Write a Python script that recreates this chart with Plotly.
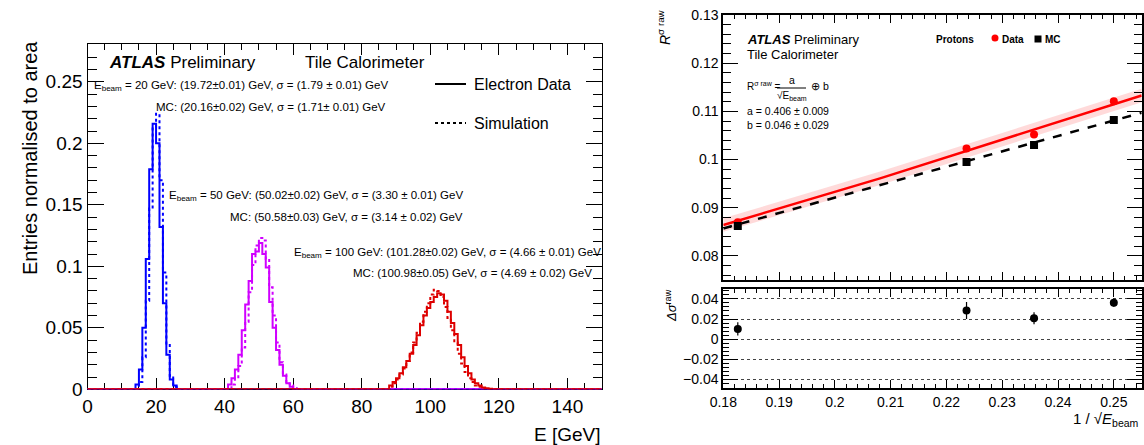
import plotly.graph_objects as go

# ---------------- data: left panel (1 GeV bins, normalised to area) ----------------
bin_lo, bin_hi = 0, 150

e20_data_start = 14
e20_data = [0.004, 0.016, 0.050, 0.106, 0.179, 0.216, 0.200, 0.132, 0.070, 0.028, 0.008, 0.003]
e20_mc_start = 15
e20_mc = [0.006, 0.026, 0.072, 0.147, 0.213, 0.224, 0.170, 0.095, 0.036, 0.011, 0.002]

e50_data_start = 41
e50_data = [0.004, 0.009, 0.016, 0.028, 0.048, 0.069, 0.088, 0.110, 0.112, 0.119,
            0.110, 0.099, 0.071, 0.050, 0.032, 0.020, 0.011, 0.005, 0.002]
e50_mc_start = 42
e50_mc = [0.004, 0.009, 0.019, 0.034, 0.055, 0.079, 0.101, 0.117, 0.123, 0.121,
          0.106, 0.083, 0.060, 0.038, 0.022, 0.012, 0.006, 0.003, 0.001]

e100_data_start = 88
e100_data = [0.003, 0.006, 0.009, 0.013, 0.018, 0.023, 0.029, 0.036, 0.044, 0.052,
             0.060, 0.066, 0.071, 0.075, 0.078, 0.077, 0.072, 0.063, 0.054, 0.045,
             0.036, 0.026, 0.019, 0.013, 0.008, 0.005, 0.003, 0.0015, 0.0008, 0.0004]
e100_mc_start = 88
e100_mc = [0.002, 0.005, 0.008, 0.012, 0.017, 0.023, 0.030, 0.038, 0.046, 0.055,
           0.063, 0.070, 0.077, 0.081, 0.080, 0.075, 0.067, 0.058, 0.048, 0.038,
           0.029, 0.021, 0.014, 0.009, 0.006, 0.003, 0.002, 0.001]

# ---------------- data: right panel ----------------
inv_sqrt_e = [0.1826, 0.2236, 0.2357, 0.2500]
r_data = [0.0870, 0.1023, 0.1052, 0.1121]
r_mc = [0.0862, 0.0995, 0.1030, 0.1082]
delta = [0.0101, 0.0284, 0.0208, 0.0363]
delta_err = [0.0066, 0.0085, 0.0060, 0.0040]
fit_x = [0.180, 0.2081, 0.255]
fit_data = [0.0864, 0.0961, 0.1133]
fit_mc = [0.0857, 0.0947, 0.1097]
fit_band = 0.0014

# ---------------- styling ----------------
FONT = "Liberation Sans, Arial, Helvetica, sans-serif"
W, H = 1144, 445
BLUE, MAG, RED = "#0000ff", "#d000ff", "#dd0000"


def px(x):
    return x / W


def py(y):
    return 1 - y / H


def full_hist(start, vals):
    edges = list(range(bin_lo, bin_hi + 1))
    y = [0.0] * (bin_hi - bin_lo)
    for i, v in enumerate(vals):
        y[start - bin_lo + i] = v
    return edges, y + [y[-1]]


fig = go.Figure()

hists = [
    (e20_mc_start, e20_mc, BLUE, "dot"),
    (e20_data_start, e20_data, BLUE, "solid"),
    (e50_mc_start, e50_mc, MAG, "dot"),
    (e50_data_start, e50_data, MAG, "solid"),
    (e100_mc_start, e100_mc, RED, "dot"),
    (e100_data_start, e100_data, RED, "solid"),
]
for start, vals, col, dash in hists:
    xe, ye = full_hist(start, vals)
    fig.add_trace(go.Scatter(x=xe, y=ye, mode="lines", line_shape="hv",
                             line=dict(color=col, width=2, dash=dash),
                             xaxis="x", yaxis="y", showlegend=False, hoverinfo="skip"))

# right: fit band, fits, points
band_x = fit_x + fit_x[::-1]
band_y = [v + fit_band for v in fit_data] + [v - fit_band for v in fit_data[::-1]]
fig.add_trace(go.Scatter(x=band_x, y=band_y, fill="toself", mode="lines",
                         line=dict(width=0), fillcolor="rgba(255,140,140,0.32)",
                         xaxis="x2", yaxis="y2", showlegend=False, hoverinfo="skip"))
fig.add_trace(go.Scatter(x=fit_x, y=fit_mc, mode="lines",
                         line=dict(color="black", width=2.5, dash="dash"),
                         xaxis="x2", yaxis="y2", showlegend=False))
fig.add_trace(go.Scatter(x=fit_x, y=fit_data, mode="lines",
                         line=dict(color="#ff0000", width=2.5),
                         xaxis="x2", yaxis="y2", showlegend=False))
fig.add_trace(go.Scatter(x=inv_sqrt_e, y=r_data, mode="markers",
                         marker=dict(color="#ff0000", size=8, symbol="circle"),
                         xaxis="x2", yaxis="y2", showlegend=False))
fig.add_trace(go.Scatter(x=inv_sqrt_e, y=r_mc, mode="markers",
                         marker=dict(color="black", size=8, symbol="square"),
                         xaxis="x2", yaxis="y2", showlegend=False))
fig.add_trace(go.Scatter(x=inv_sqrt_e, y=delta, mode="markers",
                         marker=dict(color="black", size=8),
                         error_y=dict(type="data", array=delta_err, color="black",
                                      thickness=1.2, width=0),
                         xaxis="x3", yaxis="y3", showlegend=False))

tickfont_l = dict(family=FONT, size=19, color="black")
tickfont_r = dict(family=FONT, size=14, color="black")

common = dict(showline=True, linecolor="black", mirror="ticks", ticks="inside",
              tickcolor="black", showgrid=False, zeroline=False, automargin=False)

fig.update_layout(
    template="none",
    width=W, height=H, autosize=False,
    margin=dict(l=0, r=0, t=0, b=0, pad=0),
    paper_bgcolor="white", plot_bgcolor="white",
    font=dict(family=FONT, color="black"),
    xaxis=dict(domain=[px(87.5), px(601.7)], range=[0, 150], anchor="y",
               dtick=20, tick0=0, ticklen=11, linewidth=1.2, tickfont=tickfont_l,
               minor=dict(dtick=5, ticklen=6, ticks="inside", tickcolor="black"),
               layer="below traces", **common),
    yaxis=dict(domain=[py(389.3), py(44.3)], range=[0, 0.2805], anchor="x",
               dtick=0.05, tick0=0, ticklen=16, linewidth=1.2, tickfont=tickfont_l,
               minor=dict(dtick=0.01, ticklen=9, ticks="inside", tickcolor="black"),
               layer="below traces", **common),
    xaxis2=dict(domain=[px(723.3), px(1141.7)], range=[0.18, 0.255], anchor="y2",
                matches="x3", showticklabels=False, dtick=0.01, tick0=0.18, ticklen=8,
                linewidth=2,
                minor=dict(dtick=0.002, ticklen=4, ticks="inside", tickcolor="black"),
                **common),
    yaxis2=dict(domain=[py(280), py(15)], range=[0.075, 0.13], anchor="x2",
                dtick=0.01, tick0=0.08, ticklen=15, linewidth=2, tickfont=tickfont_r,
                minor=dict(dtick=0.002, ticklen=8, ticks="inside", tickcolor="black"),
                **common),
    xaxis3=dict(domain=[px(723.3), px(1141.7)], range=[0.18, 0.255], anchor="y3",
                dtick=0.01, tick0=0.18, ticklen=8, linewidth=2, tickfont=tickfont_r,
                minor=dict(dtick=0.002, ticklen=4, ticks="inside", tickcolor="black"),
                **common),
    yaxis3=dict(domain=[py(388.3), py(289)], range=[-0.049, 0.0499], anchor="x3",
                dtick=0.02, tick0=0, ticklen=15, linewidth=2, tickfont=tickfont_r,
                minor=dict(dtick=0.004, ticklen=6, ticks="inside", tickcolor="black"),
                showline=True, linecolor="black", mirror="ticks", ticks="inside",
                tickcolor="black", zeroline=False, automargin=False,
                showgrid=True, gridcolor="#444", griddash="dot", gridwidth=1),
)

ann = []


def add_text(x, y, text, size, xanchor="left", yanchor="middle", angle=0):
    ann.append(dict(x=px(x), y=py(y), xref="paper", yref="paper", text=text,
                    showarrow=False, xanchor=xanchor, yanchor=yanchor, textangle=angle,
                    font=dict(family=FONT, size=size, color="black")))


# left panel texts
add_text(107, 63, "<b><i>ATLAS</i></b> Preliminary", 17)
add_text(303, 63, "Tile Calorimeter", 17)
add_text(472, 84, "Electron Data", 16)
add_text(472, 123, "Simulation", 16)
add_text(92, 86, "E<sub>beam</sub> = 20 GeV: (19.72±0.01) GeV, σ = (1.79 ± 0.01) GeV", 11.5)
add_text(154, 107, "MC: (20.16±0.02) GeV, σ = (1.71± 0.01) GeV", 11.5)
add_text(167, 196, "E<sub>beam</sub> = 50 GeV: (50.02±0.02) GeV, σ = (3.30 ± 0.01) GeV", 11.5)
add_text(228, 217, "MC: (50.58±0.03) GeV, σ = (3.14 ± 0.02) GeV", 11.5)
add_text(292, 253, "E<sub>beam</sub> = 100 GeV: (101.28±0.02) GeV, σ = (4.66 ± 0.01) GeV", 11.5)
add_text(351, 273, "MC: (100.98±0.05) GeV, σ = (4.69 ± 0.02) GeV", 11.5)
add_text(30, 158, "Entries normalised to area", 20, xanchor="center", angle=-90)
add_text(603, 434, "E [GeV]", 19, xanchor="right")

# right panel texts
add_text(745, 39, "<b><i>ATLAS</i></b> Preliminary", 13)
add_text(745, 55, "Tile Calorimeter", 13)
add_text(745, 86, "R<sup>σ raw</sup> =", 10)
add_text(791.5, 80.5, "a", 10.5, xanchor="center")
add_text(791.5, 95.5, "√E<sub>beam</sub>", 10, xanchor="center")
add_text(809, 86, "⊕ b", 10.5)
add_text(745, 111, "a = 0.406 ± 0.009", 10.5)
add_text(745, 125, "b = 0.046 ± 0.029", 10.5)
add_text(934, 39, "<b>Protons</b>", 10)
add_text(1000, 39, "<b>Data</b>", 10)
add_text(1043, 39, "<b>MC</b>", 10)
add_text(664, 27, "<i>R</i><sup>σ raw</sup>", 14, xanchor="center", angle=-90)
add_text(671, 306, "<i>Δσ</i><sup>raw</sup>", 13, xanchor="center", angle=-90)
add_text(1141, 419, "1 / √<i>E</i><sub>beam</sub>", 15, xanchor="right")

shapes = [
    dict(type="line", xref="paper", yref="paper", x0=px(435), x1=px(466), y0=py(84), y1=py(84),
         line=dict(color="black", width=2)),
    dict(type="line", xref="paper", yref="paper", x0=px(435), x1=px(466), y0=py(123), y1=py(123),
         line=dict(color="black", width=2, dash="dot")),
    dict(type="line", xref="paper", yref="paper", x0=px(777), x1=px(806), y0=py(88), y1=py(88),
         line=dict(color="black", width=1)),
    dict(type="circle", xref="paper", yref="paper", x0=px(991.5), x1=px(998.5),
         y0=py(41.5), y1=py(34.5), fillcolor="#ff0000", line=dict(width=0)),
    dict(type="rect", xref="paper", yref="paper", x0=px(1034.5), x1=px(1041.5),
         y0=py(42.5), y1=py(35.5), fillcolor="black", line=dict(width=0)),
]

fig.update_layout(annotations=ann, shapes=shapes)
fig.write_html("out.html",
               config={"displayModeBar": False},
               post_script="document.body.style.margin='0px';"
                           "document.body.style.overflow='hidden';")
